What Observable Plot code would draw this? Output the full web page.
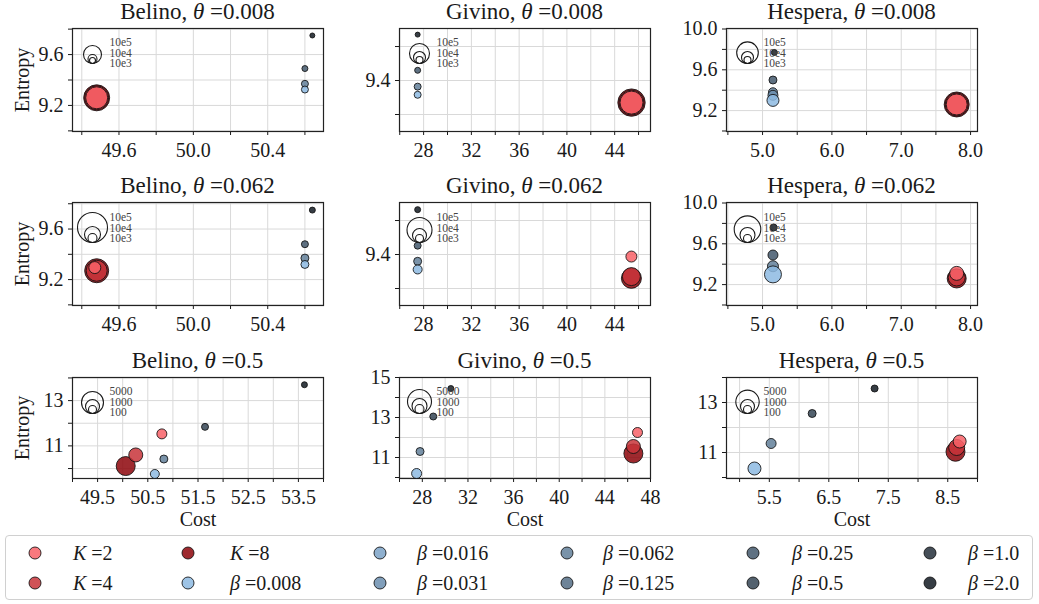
<!DOCTYPE html>
<html><head><meta charset="utf-8">
<script src="https://cdn.jsdelivr.net/npm/d3@7"></script>
<script src="https://cdn.jsdelivr.net/npm/@observablehq/plot@0.6"></script>
<style>
body{margin:0;background:#fff;}
#root{position:relative;width:1039px;height:604px;font-family:"Liberation Serif",serif;color:#1a1a1a;overflow:hidden;background:#fff}
.panel{position:absolute}
.title{position:absolute;font-size:23px;line-height:26px;font-weight:normal;white-space:nowrap;transform:translateX(-50%)}
.leg{position:absolute;left:5px;top:535px;width:1028px;height:65px;border:1px solid #d0d0d0;border-radius:4px;box-sizing:border-box}
.li{position:absolute;font-size:20px;line-height:24px;white-space:nowrap}
.lm{position:absolute}
</style></head><body><div id="root"></div>
<script>
// ---------------- data ----------------
const datasets = ["Belino", "Givino", "Hespera"];
const thetas = ["0.008", "0.062", "0.5"];
const groups = ["K=2","K=4","K=8","β=0.008","β=0.016","β=0.031","β=0.062","β=0.125","β=0.25","β=0.5","β=1.0","β=2.0"];
const groupColors = ["#f86267","#c8343a","#8d050b","#8dbae2","#7ba2c7","#6b8eaf","#63809a","#556f86","#43586c","#354555","#242f3b","#131b23"];

// rows: [group, cost, entropy, marker size]
const belino008 = [["K=8",49.48,9.26,676],["K=4",49.48,9.26,576],["K=2",49.48,9.26,484],
  ["β=2.0",50.64,9.75,25],["β=0.25",50.60,9.49,36],["β=0.062",50.60,9.37,49],["β=0.008",50.60,9.325,49]];
const givino008 = [["K=8",45.41,9.335,750],["K=4",45.41,9.335,625],["K=2",45.41,9.335,529],
  ["β=2.0",27.5,9.535,25],["β=0.25",27.5,9.43,36],["β=0.062",27.5,9.382,49],["β=0.008",27.5,9.358,49]];
const hespera008 = [["K=8",7.80,9.26,625],["K=4",7.80,9.26,529],["K=2",7.80,9.26,441],
  ["β=2.0",5.17,9.77,36],["β=0.25",5.15,9.50,64],["β=0.062",5.15,9.38,81],["β=0.031",5.15,9.35,100],["β=0.008",5.15,9.30,144]];
const belino062 = [["K=8",49.48,9.27,576],["K=4",49.48,9.27,441],["K=2",49.47,9.295,144],
  ["β=2.0",50.64,9.75,36],["β=0.25",50.60,9.48,49],["β=0.062",50.60,9.37,64],["β=0.008",50.60,9.32,64]];
const givino062 = [["K=8",45.4,9.33,400],["K=4",45.4,9.335,324],["K=2",45.4,9.394,121],
  ["β=2.0",27.5,9.532,36],["β=0.25",27.5,9.426,49],["β=0.062",27.5,9.38,64],["β=0.008",27.5,9.356,81]];
const hespera062 = [["K=8",7.8,9.26,361],["K=4",7.8,9.27,289],["K=2",7.8,9.31,196],
  ["β=2.0",5.16,9.76,49],["β=0.25",5.15,9.49,100],["β=0.062",5.15,9.38,121],["β=0.008",5.15,9.30,289]];
const belino5 = [["K=8",50.06,10.11,361],["K=4",50.26,10.6,196],["K=2",50.78,11.53,100],
  ["β=2.0",53.62,13.7,36],["β=0.5",51.64,11.84,49],["β=0.062",50.82,10.42,64],["β=0.008",50.64,9.76,81]];
const givino5 = [["K=8",46.5,11.2,361],["K=4",46.5,11.55,196],["K=2",46.86,12.25,100],
  ["β=2.0",30.5,14.45,36],["β=0.5",28.96,13.05,49],["β=0.062",27.8,11.3,64],["β=0.008",27.5,10.2,100]];
const hespera5 = [["K=8",8.63,11.03,361],["K=4",8.65,11.2,256],["K=2",8.7,11.44,169],
  ["β=2.0",7.27,13.56,49],["β=0.5",6.22,12.56,64],["β=0.062",5.53,11.36,100],["β=0.008",5.25,10.36,169]];

// tick values
const belinoXMajorA = [49.6, 50.0, 50.4], belinoXMinorA = [49.4, 49.8, 50.2, 50.6];
const belinoYMajorA = [9.2, 9.6], belinoYMinorA = [9.0, 9.4, 9.8];
const givinoXMajorA = [28, 32, 36, 40, 44], givinoXMinorA = [26, 30, 34, 38, 42, 46];
const givinoYMajorA = [9.4], givinoYMinorA = [9.3, 9.5];
const hesperaXMajorA = [5.0, 6.0, 7.0, 8.0], hesperaXMinorA = [4.5, 5.5, 6.5, 7.5];
const hesperaYMajorA = [9.2, 9.6, 10.0], hesperaYMinorA = [9.0, 9.4, 9.8];
const belinoXMajorB = [49.5, 50.5, 51.5, 52.5, 53.5], belinoXMinorB = [49, 50, 51, 52, 53, 54];
const belinoYMajorB = [11, 13], belinoYMinorB = [10, 12, 14];
const givinoXMajorB = [28, 32, 36, 40, 44, 48], givinoXMinorB = [26, 30, 34, 38, 42, 46];
const givinoYMajorB = [11, 13, 15], givinoYMinorB = [10, 12, 14];
const hesperaXMajorB = [5.5, 6.5, 7.5, 8.5], hesperaXMinorB = [5, 6, 7, 8, 9];
const hesperaYMajorB = [11, 13], hesperaYMinorB = [10, 12, 14];

// size legend
const sizeLabelsSmall = ["10e5", "10e4", "10e3"];
const sizeLabelsLarge = ["5000", "1000", "100"];
const sizeLegendValues = [[324,81,36],[400,144,49],[467,144,49],[900,256,81],[625,196,64],[708,225,64],[484,196,64],[576,225,81],[548,196,64]];

// ---------------- layout ----------------
const f1 = d3.format(".1f"), fi = d3.format("d");
const specs = [
  {rows: belino008, xd:[49.35,50.70], yd:[8.995,9.805], xM:belinoXMajorA, xm:belinoXMinorA, yM:belinoYMajorA, ym:belinoYMinorA, xf:f1, yf:f1},
  {rows: givino008, xd:[25.98,47.0], yd:[9.25,9.553], xM:givinoXMajorA, xm:givinoXMinorA, yM:givinoYMajorA, ym:givinoYMinorA, xf:fi, yf:f1},
  {rows: hespera008, xd:[4.48,8.10], yd:[8.995,10.005], xM:hesperaXMajorA, xm:hesperaXMinorA, yM:hesperaYMajorA, ym:hesperaYMinorA, xf:f1, yf:f1},
  {rows: belino062, xd:[49.35,50.70], yd:[8.995,9.81], xM:belinoXMajorA, xm:belinoXMinorA, yM:belinoYMajorA, ym:belinoYMinorA, xf:f1, yf:f1},
  {rows: givino062, xd:[25.98,47.0], yd:[9.25,9.553], xM:givinoXMajorA, xm:givinoXMinorA, yM:givinoYMajorA, ym:givinoYMinorA, xf:fi, yf:f1},
  {rows: hespera062, xd:[4.48,8.10], yd:[8.995,10.005], xM:hesperaXMajorA, xm:hesperaXMinorA, yM:hesperaYMajorA, ym:hesperaYMinorA, xf:f1, yf:f1},
  {rows: belino5, xd:[49.0,54.0], yd:[9.56,14.02], xM:belinoXMajorB, xm:belinoXMinorB, yM:belinoYMajorB, ym:belinoYMinorB, xf:f1, yf:fi},
  {rows: givino5, xd:[26.0,48.0], yd:[9.95,15.0], xM:givinoXMajorB, xm:givinoXMinorB, yM:givinoYMajorB, ym:givinoYMinorB, xf:fi, yf:fi},
  {rows: hespera5, xd:[4.78,9.0], yd:[9.96,14.0], xM:hesperaXMajorB, xm:hesperaXMinorB, yM:hesperaYMajorB, ym:hesperaYMinorB, xf:f1, yf:fi}
];
const frameL = [72, 399, 726], frameT = [28, 202, 377], frameW = 251, frameH = [103, 103, 101];
const legDx = [20, 20, 21], legBottom = [35, 40, 36], legTextDy = [25, 26, 25];
const ML = 60, MR = 16, MT = 10;

const root = document.getElementById("root");

specs.forEach((s, i) => {
  const row = Math.floor(i / 3), col = i % 3;
  const MB = row === 2 ? 62 : 40;
  const xAll = [...s.xm, ...s.xM].sort((a, b) => a - b);
  const yAll = [...s.ym, ...s.yM].sort((a, b) => a - b);
  const sizes = sizeLegendValues[i];
  const labels = row === 2 ? sizeLabelsLarge : sizeLabelsSmall;
  const legendMarks = sizes.map(v => Plot.dot([v], {
    r: d => d, frameAnchor: "top-left", dx: legDx[col], dy: legBottom[row] - 0.5 * Math.sqrt(v),
    fill: "none", stroke: "#1a1a1a", strokeWidth: 1.1
  }));
  const svg = Plot.plot({
    width: ML + frameW + MR, height: MT + frameH[row] + MB,
    marginLeft: ML, marginRight: MR, marginTop: MT, marginBottom: MB,
    style: {fontFamily: "'Liberation Serif', serif", fontSize: "20px", color: "#1a1a1a", background: "transparent", overflow: "visible"},
    x: {domain: s.xd}, y: {domain: s.yd},
    r: {type: "sqrt", domain: [0, 100], range: [0, 5]},
    color: {domain: groups, range: groupColors},
    marks: [
      Plot.gridX(xAll, {stroke: "#d9d9d9", strokeOpacity: 1, strokeWidth: 1}),
      Plot.gridY(yAll, {stroke: "#d9d9d9", strokeOpacity: 1, strokeWidth: 1}),
      Plot.axisX(xAll, {tickSize: 4, tickPadding: 7, fontSize: 20,
        tickFormat: d => s.xM.includes(d) ? s.xf(d) : "",
        label: row === 2 ? "Cost" : null, labelAnchor: "center", labelArrow: "none", labelOffset: 47}),
      Plot.axisY(yAll, {tickSize: 4, tickPadding: 5, fontSize: 20,
        tickFormat: d => s.yM.includes(d) ? s.yf(d) : "",
        label: col === 0 ? "Entropy" : null, labelAnchor: "center", labelArrow: "none", labelOffset: 58}),
      Plot.frame({stroke: "#222", strokeWidth: 1.2}),
      Plot.dot(s.rows, {x: d => d[1], y: d => d[2], r: d => d[3], fill: d => d[0], fillOpacity: 0.85,
        stroke: "#111", strokeOpacity: 0.85, strokeWidth: 1, sort: null}),
      ...legendMarks,
      Plot.text([labels.join("\n")], {text: d => d, frameAnchor: "top-left", dx: 37, dy: legTextDy[row],
        textAnchor: "start", lineAnchor: "middle", lineHeight: 0.92, fontSize: 11.5, fill: "#444"})
    ]
  });
  const wrap = document.createElement("div");
  wrap.className = "panel";
  wrap.style.left = (frameL[col] - ML) + "px";
  wrap.style.top = (frameT[row] - MT) + "px";
  wrap.appendChild(svg);
  root.appendChild(wrap);
  const t = document.createElement("div");
  t.className = "title";
  t.style.left = (frameL[col] + frameW / 2) + "px";
  t.style.top = (frameT[row] - 29) + "px";
  t.innerHTML = datasets[col] + ", <i>θ</i> =" + thetas[row];
  root.appendChild(t);
});

// bottom legend
const leg = document.createElement("div");
leg.className = "leg";
root.appendChild(leg);
const mX = [35, 188, 380, 567, 753, 930], lX = [73, 230, 417, 603, 792, 968], rY = [553, 583];
groups.forEach((g, i) => {
  const c = Math.floor(i / 2), r = i % 2;
  const m = document.createElementNS("http://www.w3.org/2000/svg", "svg");
  m.setAttribute("width", 16); m.setAttribute("height", 16);
  m.setAttribute("class", "lm");
  m.style.left = (mX[c] - 8) + "px"; m.style.top = (rY[r] - 8) + "px";
  m.innerHTML = `<circle cx="8" cy="8" r="6" fill="${groupColors[i]}" fill-opacity="0.85" stroke="#111" stroke-opacity="0.85" stroke-width="1"/>`;
  root.appendChild(m);
  const [sym, val] = g.split("=");
  const l = document.createElement("div");
  l.className = "li";
  l.style.left = lX[c] + "px"; l.style.top = (rY[r] - 12) + "px";
  l.innerHTML = `<i>${sym}</i> =${val}`;
  root.appendChild(l);
});
</script></body></html>
